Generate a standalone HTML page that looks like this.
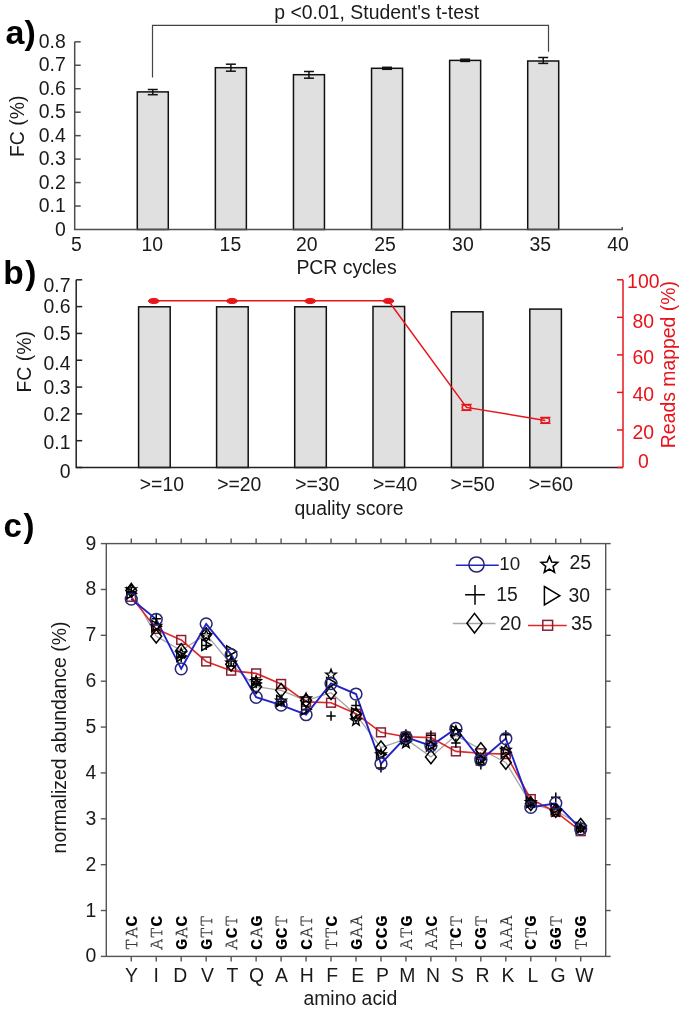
<!DOCTYPE html>
<html><head><meta charset="utf-8"><style>
html,body{margin:0;padding:0;background:#fff;}
svg{display:block;font-family:"Liberation Sans", sans-serif;will-change:transform;}
</style></head><body>
<svg width="685" height="1011" viewBox="0 0 685 1011">
<rect width="685" height="1011" fill="#fff"/>
<text x="5.50" y="44.00" font-size="34" text-anchor="start" fill="#000" font-weight="bold" >a)</text>
<text x="65.80" y="235.70" font-size="19.4" text-anchor="end" fill="#1a1a1a" font-weight="normal" >0</text>
<text x="65.80" y="212.24" font-size="19.4" text-anchor="end" fill="#1a1a1a" font-weight="normal" >0.1</text>
<text x="65.80" y="188.78" font-size="19.4" text-anchor="end" fill="#1a1a1a" font-weight="normal" >0.2</text>
<text x="65.80" y="165.31" font-size="19.4" text-anchor="end" fill="#1a1a1a" font-weight="normal" >0.3</text>
<text x="65.80" y="141.85" font-size="19.4" text-anchor="end" fill="#1a1a1a" font-weight="normal" >0.4</text>
<text x="65.80" y="118.39" font-size="19.4" text-anchor="end" fill="#1a1a1a" font-weight="normal" >0.5</text>
<text x="65.80" y="94.93" font-size="19.4" text-anchor="end" fill="#1a1a1a" font-weight="normal" >0.6</text>
<text x="65.80" y="71.46" font-size="19.4" text-anchor="end" fill="#1a1a1a" font-weight="normal" >0.7</text>
<text x="65.80" y="48.00" font-size="19.4" text-anchor="end" fill="#1a1a1a" font-weight="normal" >0.8</text>
<text transform="translate(23.7,126.3) rotate(-90)" font-size="19.4" text-anchor="middle" fill="#1a1a1a">FC (%)</text>
<text x="76.50" y="251.00" font-size="19.4" text-anchor="middle" fill="#1a1a1a" font-weight="normal" >5</text>
<text x="152.20" y="251.00" font-size="19.4" text-anchor="middle" fill="#1a1a1a" font-weight="normal" >10</text>
<text x="230.40" y="251.00" font-size="19.4" text-anchor="middle" fill="#1a1a1a" font-weight="normal" >15</text>
<text x="306.80" y="251.00" font-size="19.4" text-anchor="middle" fill="#1a1a1a" font-weight="normal" >20</text>
<text x="385.00" y="251.00" font-size="19.4" text-anchor="middle" fill="#1a1a1a" font-weight="normal" >25</text>
<text x="462.90" y="251.00" font-size="19.4" text-anchor="middle" fill="#1a1a1a" font-weight="normal" >30</text>
<text x="540.20" y="251.00" font-size="19.4" text-anchor="middle" fill="#1a1a1a" font-weight="normal" >35</text>
<text x="618.10" y="251.00" font-size="19.4" text-anchor="middle" fill="#1a1a1a" font-weight="normal" >40</text>
<text x="346.50" y="274.00" font-size="19.4" text-anchor="middle" fill="#1a1a1a" font-weight="normal" >PCR cycles</text>
<rect x="137.29" y="91.90" width="31" height="137.60" fill="#e0e0e0" stroke="#111" stroke-width="1.5"/>
<rect x="215.37" y="67.70" width="31" height="161.80" fill="#e0e0e0" stroke="#111" stroke-width="1.5"/>
<rect x="293.46" y="74.70" width="31" height="154.80" fill="#e0e0e0" stroke="#111" stroke-width="1.5"/>
<rect x="371.54" y="68.30" width="31" height="161.20" fill="#e0e0e0" stroke="#111" stroke-width="1.5"/>
<rect x="449.63" y="60.40" width="31" height="169.10" fill="#e0e0e0" stroke="#111" stroke-width="1.5"/>
<rect x="527.71" y="61.00" width="31" height="168.50" fill="#e0e0e0" stroke="#111" stroke-width="1.5"/>
<line x1="152.79" y1="89.50" x2="152.79" y2="94.70" stroke="#111" stroke-width="1.5" />
<line x1="147.79" y1="89.50" x2="157.79" y2="89.50" stroke="#111" stroke-width="1.5" />
<line x1="147.79" y1="94.70" x2="157.79" y2="94.70" stroke="#111" stroke-width="1.5" />
<line x1="230.87" y1="64.20" x2="230.87" y2="71.20" stroke="#111" stroke-width="1.5" />
<line x1="225.87" y1="64.20" x2="235.87" y2="64.20" stroke="#111" stroke-width="1.5" />
<line x1="225.87" y1="71.20" x2="235.87" y2="71.20" stroke="#111" stroke-width="1.5" />
<line x1="308.96" y1="71.50" x2="308.96" y2="78.20" stroke="#111" stroke-width="1.5" />
<line x1="303.96" y1="71.50" x2="313.96" y2="71.50" stroke="#111" stroke-width="1.5" />
<line x1="303.96" y1="78.20" x2="313.96" y2="78.20" stroke="#111" stroke-width="1.5" />
<line x1="387.04" y1="67.30" x2="387.04" y2="69.30" stroke="#111" stroke-width="1.5" />
<line x1="382.04" y1="67.30" x2="392.04" y2="67.30" stroke="#111" stroke-width="1.5" />
<line x1="382.04" y1="69.30" x2="392.04" y2="69.30" stroke="#111" stroke-width="1.5" />
<line x1="465.13" y1="59.20" x2="465.13" y2="61.40" stroke="#111" stroke-width="1.5" />
<line x1="460.13" y1="59.20" x2="470.13" y2="59.20" stroke="#111" stroke-width="1.5" />
<line x1="460.13" y1="61.40" x2="470.13" y2="61.40" stroke="#111" stroke-width="1.5" />
<line x1="543.21" y1="57.50" x2="543.21" y2="63.40" stroke="#111" stroke-width="1.5" />
<line x1="538.21" y1="57.50" x2="548.21" y2="57.50" stroke="#111" stroke-width="1.5" />
<line x1="538.21" y1="63.40" x2="548.21" y2="63.40" stroke="#111" stroke-width="1.5" />
<path d="M74.7,41.8 V229.5 H622.2 V226.9" fill="none" stroke="#4d4d4d" stroke-width="1.5"/>
<line x1="74.70" y1="206.04" x2="80.70" y2="206.04" stroke="#4d4d4d" stroke-width="1.5" />
<line x1="74.70" y1="182.57" x2="80.70" y2="182.57" stroke="#4d4d4d" stroke-width="1.5" />
<line x1="74.70" y1="159.11" x2="80.70" y2="159.11" stroke="#4d4d4d" stroke-width="1.5" />
<line x1="74.70" y1="135.65" x2="80.70" y2="135.65" stroke="#4d4d4d" stroke-width="1.5" />
<line x1="74.70" y1="112.19" x2="80.70" y2="112.19" stroke="#4d4d4d" stroke-width="1.5" />
<line x1="74.70" y1="88.73" x2="80.70" y2="88.73" stroke="#4d4d4d" stroke-width="1.5" />
<line x1="74.70" y1="65.26" x2="80.70" y2="65.26" stroke="#4d4d4d" stroke-width="1.5" />
<line x1="74.70" y1="41.80" x2="80.70" y2="41.80" stroke="#4d4d4d" stroke-width="1.5" />
<path d="M152.5,77.4 V25.3 H548.5 V51.8" fill="none" stroke="#444" stroke-width="1.2"/>
<text x="274.30" y="18.70" font-size="19.4" text-anchor="start" fill="#1a1a1a" font-weight="normal" >p &lt;0.01, Student's t-test</text>
<text x="3.30" y="284.30" font-size="33.5" text-anchor="start" fill="#000" font-weight="bold" >b<tspan dx="1.6">)</tspan></text>
<text x="70.50" y="477.70" font-size="19.4" text-anchor="end" fill="#1a1a1a" font-weight="normal" >0</text>
<text x="70.50" y="448.70" font-size="19.4" text-anchor="end" fill="#1a1a1a" font-weight="normal" >0.1</text>
<text x="70.50" y="421.10" font-size="19.4" text-anchor="end" fill="#1a1a1a" font-weight="normal" >0.2</text>
<text x="70.50" y="393.90" font-size="19.4" text-anchor="end" fill="#1a1a1a" font-weight="normal" >0.3</text>
<text x="70.50" y="369.50" font-size="19.4" text-anchor="end" fill="#1a1a1a" font-weight="normal" >0.4</text>
<text x="70.50" y="340.30" font-size="19.4" text-anchor="end" fill="#1a1a1a" font-weight="normal" >0.5</text>
<text x="70.50" y="313.40" font-size="19.4" text-anchor="end" fill="#1a1a1a" font-weight="normal" >0.6</text>
<text x="70.50" y="292.40" font-size="19.4" text-anchor="end" fill="#1a1a1a" font-weight="normal" >0.7</text>
<text transform="translate(30.5,361.8) rotate(-90)" font-size="19.4" text-anchor="middle" fill="#1a1a1a">FC (%)</text>
<rect x="138.60" y="306.80" width="31.6" height="160.70" fill="#e0e0e0" stroke="#111" stroke-width="1.5"/>
<rect x="216.60" y="306.80" width="31.6" height="160.70" fill="#e0e0e0" stroke="#111" stroke-width="1.5"/>
<rect x="294.70" y="306.80" width="31.6" height="160.70" fill="#e0e0e0" stroke="#111" stroke-width="1.5"/>
<rect x="373.00" y="306.50" width="31.6" height="161.00" fill="#e0e0e0" stroke="#111" stroke-width="1.5"/>
<rect x="451.40" y="311.80" width="31.6" height="155.70" fill="#e0e0e0" stroke="#111" stroke-width="1.5"/>
<rect x="529.80" y="309.10" width="31.6" height="158.40" fill="#e0e0e0" stroke="#111" stroke-width="1.5"/>
<text x="161.90" y="491.40" font-size="19.4" text-anchor="middle" fill="#1a1a1a" font-weight="normal" >&gt;=10</text>
<text x="239.30" y="491.40" font-size="19.4" text-anchor="middle" fill="#1a1a1a" font-weight="normal" >&gt;=20</text>
<text x="317.40" y="491.40" font-size="19.4" text-anchor="middle" fill="#1a1a1a" font-weight="normal" >&gt;=30</text>
<text x="395.10" y="491.40" font-size="19.4" text-anchor="middle" fill="#1a1a1a" font-weight="normal" >&gt;=40</text>
<text x="472.70" y="491.40" font-size="19.4" text-anchor="middle" fill="#1a1a1a" font-weight="normal" >&gt;=50</text>
<text x="550.90" y="491.40" font-size="19.4" text-anchor="middle" fill="#1a1a1a" font-weight="normal" >&gt;=60</text>
<text x="349.00" y="515.00" font-size="19.4" text-anchor="middle" fill="#1a1a1a" font-weight="normal" >quality score</text>
<path d="M76.2,279.8 V467.5 H623.0" fill="none" stroke="#222" stroke-width="1.5"/>
<line x1="76.20" y1="467.50" x2="82.20" y2="467.50" stroke="#222" stroke-width="1.5" />
<line x1="76.20" y1="440.69" x2="82.20" y2="440.69" stroke="#222" stroke-width="1.5" />
<line x1="76.20" y1="413.87" x2="82.20" y2="413.87" stroke="#222" stroke-width="1.5" />
<line x1="76.20" y1="387.06" x2="82.20" y2="387.06" stroke="#222" stroke-width="1.5" />
<line x1="76.20" y1="360.24" x2="82.20" y2="360.24" stroke="#222" stroke-width="1.5" />
<line x1="76.20" y1="333.43" x2="82.20" y2="333.43" stroke="#222" stroke-width="1.5" />
<line x1="76.20" y1="306.61" x2="82.20" y2="306.61" stroke="#222" stroke-width="1.5" />
<line x1="76.20" y1="279.80" x2="82.20" y2="279.80" stroke="#222" stroke-width="1.5" />
<path d="M623.0,279.8 V467.5" fill="none" stroke="#e8141c" stroke-width="1.5"/>
<line x1="617.00" y1="467.50" x2="623.00" y2="467.50" stroke="#e8141c" stroke-width="1.5" />
<text x="643.30" y="467.90" font-size="19.4" text-anchor="middle" fill="#e8141c" font-weight="normal" >0</text>
<line x1="617.00" y1="429.96" x2="623.00" y2="429.96" stroke="#e8141c" stroke-width="1.5" />
<text x="643.30" y="438.70" font-size="19.4" text-anchor="middle" fill="#e8141c" font-weight="normal" >20</text>
<line x1="617.00" y1="392.42" x2="623.00" y2="392.42" stroke="#e8141c" stroke-width="1.5" />
<text x="643.30" y="400.90" font-size="19.4" text-anchor="middle" fill="#e8141c" font-weight="normal" >40</text>
<line x1="617.00" y1="354.88" x2="623.00" y2="354.88" stroke="#e8141c" stroke-width="1.5" />
<text x="643.30" y="364.00" font-size="19.4" text-anchor="middle" fill="#e8141c" font-weight="normal" >60</text>
<line x1="617.00" y1="317.34" x2="623.00" y2="317.34" stroke="#e8141c" stroke-width="1.5" />
<text x="643.30" y="328.20" font-size="19.4" text-anchor="middle" fill="#e8141c" font-weight="normal" >80</text>
<line x1="617.00" y1="279.80" x2="623.00" y2="279.80" stroke="#e8141c" stroke-width="1.5" />
<text x="643.30" y="287.50" font-size="19.4" text-anchor="middle" fill="#e8141c" font-weight="normal" >100</text>
<text transform="translate(675,364.6) rotate(-90)" font-size="19.4" text-anchor="middle" fill="#e8141c">Reads mapped (%)</text>
<polyline points="153.8,300.7 232.0,300.7 310.2,300.7 388.4,300.7 466.5,407.4 545.3,420.4" fill="none" stroke="#e8141c" stroke-width="1.5"/>
<ellipse cx="153.8" cy="301.0" rx="5.3" ry="2.6" fill="#e8141c" stroke="#e8141c" stroke-width="1"/>
<ellipse cx="232.0" cy="301.0" rx="5.3" ry="2.6" fill="#e8141c" stroke="#e8141c" stroke-width="1"/>
<ellipse cx="310.2" cy="301.0" rx="5.3" ry="2.6" fill="#e8141c" stroke="#e8141c" stroke-width="1"/>
<ellipse cx="388.4" cy="301.0" rx="5.3" ry="2.6" fill="#e8141c" stroke="#e8141c" stroke-width="1"/>
<ellipse cx="466.5" cy="407.4" rx="4.3" ry="2.6" fill="none" stroke="#e8141c" stroke-width="1.5"/>
<line x1="461.30" y1="404.50" x2="471.70" y2="404.50" stroke="#e8141c" stroke-width="1.5" />
<line x1="461.30" y1="410.30" x2="471.70" y2="410.30" stroke="#e8141c" stroke-width="1.5" />
<ellipse cx="545.3" cy="420.4" rx="4.3" ry="2.6" fill="none" stroke="#e8141c" stroke-width="1.5"/>
<line x1="540.10" y1="417.50" x2="550.50" y2="417.50" stroke="#e8141c" stroke-width="1.5" />
<line x1="540.10" y1="423.30" x2="550.50" y2="423.30" stroke="#e8141c" stroke-width="1.5" />
<text x="3.60" y="537.20" font-size="33" text-anchor="start" fill="#000" font-weight="bold" >c<tspan dx="1.6">)</tspan></text>
<rect x="106.3" y="543.6" width="499.40000000000003" height="412.79999999999995" fill="none" stroke="#555" stroke-width="1.4"/>
<line x1="100.80" y1="956.40" x2="106.30" y2="956.40" stroke="#555" stroke-width="1.4" />
<line x1="605.70" y1="956.40" x2="610.70" y2="956.40" stroke="#555" stroke-width="1.4" />
<text x="96.20" y="962.40" font-size="19.4" text-anchor="end" fill="#1a1a1a" font-weight="normal" >0</text>
<line x1="100.80" y1="910.53" x2="106.30" y2="910.53" stroke="#555" stroke-width="1.4" />
<line x1="605.70" y1="910.53" x2="610.70" y2="910.53" stroke="#555" stroke-width="1.4" />
<text x="96.20" y="916.53" font-size="19.4" text-anchor="end" fill="#1a1a1a" font-weight="normal" >1</text>
<line x1="100.80" y1="864.67" x2="106.30" y2="864.67" stroke="#555" stroke-width="1.4" />
<line x1="605.70" y1="864.67" x2="610.70" y2="864.67" stroke="#555" stroke-width="1.4" />
<text x="96.20" y="870.67" font-size="19.4" text-anchor="end" fill="#1a1a1a" font-weight="normal" >2</text>
<line x1="100.80" y1="818.80" x2="106.30" y2="818.80" stroke="#555" stroke-width="1.4" />
<line x1="605.70" y1="818.80" x2="610.70" y2="818.80" stroke="#555" stroke-width="1.4" />
<text x="96.20" y="824.80" font-size="19.4" text-anchor="end" fill="#1a1a1a" font-weight="normal" >3</text>
<line x1="100.80" y1="772.93" x2="106.30" y2="772.93" stroke="#555" stroke-width="1.4" />
<line x1="605.70" y1="772.93" x2="610.70" y2="772.93" stroke="#555" stroke-width="1.4" />
<text x="96.20" y="778.93" font-size="19.4" text-anchor="end" fill="#1a1a1a" font-weight="normal" >4</text>
<line x1="100.80" y1="727.07" x2="106.30" y2="727.07" stroke="#555" stroke-width="1.4" />
<line x1="605.70" y1="727.07" x2="610.70" y2="727.07" stroke="#555" stroke-width="1.4" />
<text x="96.20" y="733.07" font-size="19.4" text-anchor="end" fill="#1a1a1a" font-weight="normal" >5</text>
<line x1="100.80" y1="681.20" x2="106.30" y2="681.20" stroke="#555" stroke-width="1.4" />
<line x1="605.70" y1="681.20" x2="610.70" y2="681.20" stroke="#555" stroke-width="1.4" />
<text x="96.20" y="687.20" font-size="19.4" text-anchor="end" fill="#1a1a1a" font-weight="normal" >6</text>
<line x1="100.80" y1="635.33" x2="106.30" y2="635.33" stroke="#555" stroke-width="1.4" />
<line x1="605.70" y1="635.33" x2="610.70" y2="635.33" stroke="#555" stroke-width="1.4" />
<text x="96.20" y="641.33" font-size="19.4" text-anchor="end" fill="#1a1a1a" font-weight="normal" >7</text>
<line x1="100.80" y1="589.47" x2="106.30" y2="589.47" stroke="#555" stroke-width="1.4" />
<line x1="605.70" y1="589.47" x2="610.70" y2="589.47" stroke="#555" stroke-width="1.4" />
<text x="96.20" y="595.47" font-size="19.4" text-anchor="end" fill="#1a1a1a" font-weight="normal" >8</text>
<line x1="100.80" y1="543.60" x2="106.30" y2="543.60" stroke="#555" stroke-width="1.4" />
<line x1="605.70" y1="543.60" x2="610.70" y2="543.60" stroke="#555" stroke-width="1.4" />
<text x="96.20" y="549.60" font-size="19.4" text-anchor="end" fill="#1a1a1a" font-weight="normal" >9</text>
<line x1="131.27" y1="538.40" x2="131.27" y2="543.60" stroke="#555" stroke-width="1.4" />
<line x1="131.27" y1="956.40" x2="131.27" y2="961.60" stroke="#555" stroke-width="1.4" />
<line x1="156.24" y1="538.40" x2="156.24" y2="543.60" stroke="#555" stroke-width="1.4" />
<line x1="156.24" y1="956.40" x2="156.24" y2="961.60" stroke="#555" stroke-width="1.4" />
<line x1="181.21" y1="538.40" x2="181.21" y2="543.60" stroke="#555" stroke-width="1.4" />
<line x1="181.21" y1="956.40" x2="181.21" y2="961.60" stroke="#555" stroke-width="1.4" />
<line x1="206.18" y1="538.40" x2="206.18" y2="543.60" stroke="#555" stroke-width="1.4" />
<line x1="206.18" y1="956.40" x2="206.18" y2="961.60" stroke="#555" stroke-width="1.4" />
<line x1="231.15" y1="538.40" x2="231.15" y2="543.60" stroke="#555" stroke-width="1.4" />
<line x1="231.15" y1="956.40" x2="231.15" y2="961.60" stroke="#555" stroke-width="1.4" />
<line x1="256.12" y1="538.40" x2="256.12" y2="543.60" stroke="#555" stroke-width="1.4" />
<line x1="256.12" y1="956.40" x2="256.12" y2="961.60" stroke="#555" stroke-width="1.4" />
<line x1="281.09" y1="538.40" x2="281.09" y2="543.60" stroke="#555" stroke-width="1.4" />
<line x1="281.09" y1="956.40" x2="281.09" y2="961.60" stroke="#555" stroke-width="1.4" />
<line x1="306.06" y1="538.40" x2="306.06" y2="543.60" stroke="#555" stroke-width="1.4" />
<line x1="306.06" y1="956.40" x2="306.06" y2="961.60" stroke="#555" stroke-width="1.4" />
<line x1="331.03" y1="538.40" x2="331.03" y2="543.60" stroke="#555" stroke-width="1.4" />
<line x1="331.03" y1="956.40" x2="331.03" y2="961.60" stroke="#555" stroke-width="1.4" />
<line x1="356.00" y1="538.40" x2="356.00" y2="543.60" stroke="#555" stroke-width="1.4" />
<line x1="356.00" y1="956.40" x2="356.00" y2="961.60" stroke="#555" stroke-width="1.4" />
<line x1="380.97" y1="538.40" x2="380.97" y2="543.60" stroke="#555" stroke-width="1.4" />
<line x1="380.97" y1="956.40" x2="380.97" y2="961.60" stroke="#555" stroke-width="1.4" />
<line x1="405.94" y1="538.40" x2="405.94" y2="543.60" stroke="#555" stroke-width="1.4" />
<line x1="405.94" y1="956.40" x2="405.94" y2="961.60" stroke="#555" stroke-width="1.4" />
<line x1="430.91" y1="538.40" x2="430.91" y2="543.60" stroke="#555" stroke-width="1.4" />
<line x1="430.91" y1="956.40" x2="430.91" y2="961.60" stroke="#555" stroke-width="1.4" />
<line x1="455.88" y1="538.40" x2="455.88" y2="543.60" stroke="#555" stroke-width="1.4" />
<line x1="455.88" y1="956.40" x2="455.88" y2="961.60" stroke="#555" stroke-width="1.4" />
<line x1="480.85" y1="538.40" x2="480.85" y2="543.60" stroke="#555" stroke-width="1.4" />
<line x1="480.85" y1="956.40" x2="480.85" y2="961.60" stroke="#555" stroke-width="1.4" />
<line x1="505.82" y1="538.40" x2="505.82" y2="543.60" stroke="#555" stroke-width="1.4" />
<line x1="505.82" y1="956.40" x2="505.82" y2="961.60" stroke="#555" stroke-width="1.4" />
<line x1="530.79" y1="538.40" x2="530.79" y2="543.60" stroke="#555" stroke-width="1.4" />
<line x1="530.79" y1="956.40" x2="530.79" y2="961.60" stroke="#555" stroke-width="1.4" />
<line x1="555.76" y1="538.40" x2="555.76" y2="543.60" stroke="#555" stroke-width="1.4" />
<line x1="555.76" y1="956.40" x2="555.76" y2="961.60" stroke="#555" stroke-width="1.4" />
<line x1="580.73" y1="538.40" x2="580.73" y2="543.60" stroke="#555" stroke-width="1.4" />
<line x1="580.73" y1="956.40" x2="580.73" y2="961.60" stroke="#555" stroke-width="1.4" />
<text x="131.57" y="982.20" font-size="19.4" text-anchor="middle" fill="#1a1a1a" font-weight="normal" >Y</text>
<text x="156.14" y="982.20" font-size="19.4" text-anchor="middle" fill="#1a1a1a" font-weight="normal" >I</text>
<text x="180.21" y="982.20" font-size="19.4" text-anchor="middle" fill="#1a1a1a" font-weight="normal" >D</text>
<text x="207.38" y="982.20" font-size="19.4" text-anchor="middle" fill="#1a1a1a" font-weight="normal" >V</text>
<text x="232.35" y="982.20" font-size="19.4" text-anchor="middle" fill="#1a1a1a" font-weight="normal" >T</text>
<text x="256.52" y="982.20" font-size="19.4" text-anchor="middle" fill="#1a1a1a" font-weight="normal" >Q</text>
<text x="281.39" y="982.20" font-size="19.4" text-anchor="middle" fill="#1a1a1a" font-weight="normal" >A</text>
<text x="306.66" y="982.20" font-size="19.4" text-anchor="middle" fill="#1a1a1a" font-weight="normal" >H</text>
<text x="332.23" y="982.20" font-size="19.4" text-anchor="middle" fill="#1a1a1a" font-weight="normal" >F</text>
<text x="357.60" y="982.20" font-size="19.4" text-anchor="middle" fill="#1a1a1a" font-weight="normal" >E</text>
<text x="382.37" y="982.20" font-size="19.4" text-anchor="middle" fill="#1a1a1a" font-weight="normal" >P</text>
<text x="407.34" y="982.20" font-size="19.4" text-anchor="middle" fill="#1a1a1a" font-weight="normal" >M</text>
<text x="433.11" y="982.20" font-size="19.4" text-anchor="middle" fill="#1a1a1a" font-weight="normal" >N</text>
<text x="457.38" y="982.20" font-size="19.4" text-anchor="middle" fill="#1a1a1a" font-weight="normal" >S</text>
<text x="482.55" y="982.20" font-size="19.4" text-anchor="middle" fill="#1a1a1a" font-weight="normal" >R</text>
<text x="507.92" y="982.20" font-size="19.4" text-anchor="middle" fill="#1a1a1a" font-weight="normal" >K</text>
<text x="532.89" y="982.20" font-size="19.4" text-anchor="middle" fill="#1a1a1a" font-weight="normal" >L</text>
<text x="558.06" y="982.20" font-size="19.4" text-anchor="middle" fill="#1a1a1a" font-weight="normal" >G</text>
<text x="584.33" y="982.20" font-size="19.4" text-anchor="middle" fill="#1a1a1a" font-weight="normal" >W</text>
<text x="350.30" y="1005.20" font-size="19.4" text-anchor="middle" fill="#1a1a1a" font-weight="normal" >amino acid</text>
<text transform="translate(66,737.5) rotate(-90)" font-size="19.4" text-anchor="middle" fill="#1a1a1a">normalized abundance (%)</text>
<g transform="translate(136.87,944.40) rotate(-90)"><path d="M-4.3,-10.6H4.3M-4.3,-10.6v3.0M4.3,-10.6v3.0M0,-10.6V0M-2.3,0H2.3" stroke="#3a3a3a" stroke-width="1.05" fill="none"/></g>
<g transform="translate(136.87,932.70) rotate(-90)"><path d="M-2.6,-10.6H0.3L4.1,0M0.3,-10.6L-3.9,0M-2.6,-3.82H2.7M-5.5,0H-2.3M2.2,0H5.5" stroke="#3a3a3a" stroke-width="1.05" fill="none"/></g>
<g transform="translate(136.87,921.00) rotate(-90) scale(1,0.86)"><text x="0" y="0" font-family='"Liberation Mono", monospace' font-weight="bold" font-size="19" text-anchor="middle" fill="#000">C</text></g>
<g transform="translate(161.84,944.40) rotate(-90)"><path d="M-2.6,-10.6H0.3L4.1,0M0.3,-10.6L-3.9,0M-2.6,-3.82H2.7M-5.5,0H-2.3M2.2,0H5.5" stroke="#3a3a3a" stroke-width="1.05" fill="none"/></g>
<g transform="translate(161.84,932.70) rotate(-90)"><path d="M-4.3,-10.6H4.3M-4.3,-10.6v3.0M4.3,-10.6v3.0M0,-10.6V0M-2.3,0H2.3" stroke="#3a3a3a" stroke-width="1.05" fill="none"/></g>
<g transform="translate(161.84,921.00) rotate(-90) scale(1,0.86)"><text x="0" y="0" font-family='"Liberation Mono", monospace' font-weight="bold" font-size="19" text-anchor="middle" fill="#000">C</text></g>
<g transform="translate(186.81,944.40) rotate(-90) scale(1,0.86)"><text x="0" y="0" font-family='"Liberation Mono", monospace' font-weight="bold" font-size="19" text-anchor="middle" fill="#000">G</text></g>
<g transform="translate(186.81,932.70) rotate(-90)"><path d="M-2.6,-10.6H0.3L4.1,0M0.3,-10.6L-3.9,0M-2.6,-3.82H2.7M-5.5,0H-2.3M2.2,0H5.5" stroke="#3a3a3a" stroke-width="1.05" fill="none"/></g>
<g transform="translate(186.81,921.00) rotate(-90) scale(1,0.86)"><text x="0" y="0" font-family='"Liberation Mono", monospace' font-weight="bold" font-size="19" text-anchor="middle" fill="#000">C</text></g>
<g transform="translate(211.78,944.40) rotate(-90) scale(1,0.86)"><text x="0" y="0" font-family='"Liberation Mono", monospace' font-weight="bold" font-size="19" text-anchor="middle" fill="#000">G</text></g>
<g transform="translate(211.78,932.70) rotate(-90)"><path d="M-4.3,-10.6H4.3M-4.3,-10.6v3.0M4.3,-10.6v3.0M0,-10.6V0M-2.3,0H2.3" stroke="#3a3a3a" stroke-width="1.05" fill="none"/></g>
<g transform="translate(211.78,921.00) rotate(-90)"><path d="M-4.3,-10.6H4.3M-4.3,-10.6v3.0M4.3,-10.6v3.0M0,-10.6V0M-2.3,0H2.3" stroke="#3a3a3a" stroke-width="1.05" fill="none"/></g>
<g transform="translate(236.75,944.40) rotate(-90)"><path d="M-2.6,-10.6H0.3L4.1,0M0.3,-10.6L-3.9,0M-2.6,-3.82H2.7M-5.5,0H-2.3M2.2,0H5.5" stroke="#3a3a3a" stroke-width="1.05" fill="none"/></g>
<g transform="translate(236.75,932.70) rotate(-90) scale(1,0.86)"><text x="0" y="0" font-family='"Liberation Mono", monospace' font-weight="bold" font-size="19" text-anchor="middle" fill="#000">C</text></g>
<g transform="translate(236.75,921.00) rotate(-90)"><path d="M-4.3,-10.6H4.3M-4.3,-10.6v3.0M4.3,-10.6v3.0M0,-10.6V0M-2.3,0H2.3" stroke="#3a3a3a" stroke-width="1.05" fill="none"/></g>
<g transform="translate(261.72,944.40) rotate(-90) scale(1,0.86)"><text x="0" y="0" font-family='"Liberation Mono", monospace' font-weight="bold" font-size="19" text-anchor="middle" fill="#000">C</text></g>
<g transform="translate(261.72,932.70) rotate(-90)"><path d="M-2.6,-10.6H0.3L4.1,0M0.3,-10.6L-3.9,0M-2.6,-3.82H2.7M-5.5,0H-2.3M2.2,0H5.5" stroke="#3a3a3a" stroke-width="1.05" fill="none"/></g>
<g transform="translate(261.72,921.00) rotate(-90) scale(1,0.86)"><text x="0" y="0" font-family='"Liberation Mono", monospace' font-weight="bold" font-size="19" text-anchor="middle" fill="#000">G</text></g>
<g transform="translate(286.69,944.40) rotate(-90) scale(1,0.86)"><text x="0" y="0" font-family='"Liberation Mono", monospace' font-weight="bold" font-size="19" text-anchor="middle" fill="#000">G</text></g>
<g transform="translate(286.69,932.70) rotate(-90) scale(1,0.86)"><text x="0" y="0" font-family='"Liberation Mono", monospace' font-weight="bold" font-size="19" text-anchor="middle" fill="#000">C</text></g>
<g transform="translate(286.69,921.00) rotate(-90)"><path d="M-4.3,-10.6H4.3M-4.3,-10.6v3.0M4.3,-10.6v3.0M0,-10.6V0M-2.3,0H2.3" stroke="#3a3a3a" stroke-width="1.05" fill="none"/></g>
<g transform="translate(311.66,944.40) rotate(-90) scale(1,0.86)"><text x="0" y="0" font-family='"Liberation Mono", monospace' font-weight="bold" font-size="19" text-anchor="middle" fill="#000">C</text></g>
<g transform="translate(311.66,932.70) rotate(-90)"><path d="M-2.6,-10.6H0.3L4.1,0M0.3,-10.6L-3.9,0M-2.6,-3.82H2.7M-5.5,0H-2.3M2.2,0H5.5" stroke="#3a3a3a" stroke-width="1.05" fill="none"/></g>
<g transform="translate(311.66,921.00) rotate(-90)"><path d="M-4.3,-10.6H4.3M-4.3,-10.6v3.0M4.3,-10.6v3.0M0,-10.6V0M-2.3,0H2.3" stroke="#3a3a3a" stroke-width="1.05" fill="none"/></g>
<g transform="translate(336.63,944.40) rotate(-90)"><path d="M-4.3,-10.6H4.3M-4.3,-10.6v3.0M4.3,-10.6v3.0M0,-10.6V0M-2.3,0H2.3" stroke="#3a3a3a" stroke-width="1.05" fill="none"/></g>
<g transform="translate(336.63,932.70) rotate(-90)"><path d="M-4.3,-10.6H4.3M-4.3,-10.6v3.0M4.3,-10.6v3.0M0,-10.6V0M-2.3,0H2.3" stroke="#3a3a3a" stroke-width="1.05" fill="none"/></g>
<g transform="translate(336.63,921.00) rotate(-90) scale(1,0.86)"><text x="0" y="0" font-family='"Liberation Mono", monospace' font-weight="bold" font-size="19" text-anchor="middle" fill="#000">C</text></g>
<g transform="translate(361.60,944.40) rotate(-90) scale(1,0.86)"><text x="0" y="0" font-family='"Liberation Mono", monospace' font-weight="bold" font-size="19" text-anchor="middle" fill="#000">G</text></g>
<g transform="translate(361.60,932.70) rotate(-90)"><path d="M-2.6,-10.6H0.3L4.1,0M0.3,-10.6L-3.9,0M-2.6,-3.82H2.7M-5.5,0H-2.3M2.2,0H5.5" stroke="#3a3a3a" stroke-width="1.05" fill="none"/></g>
<g transform="translate(361.60,921.00) rotate(-90)"><path d="M-2.6,-10.6H0.3L4.1,0M0.3,-10.6L-3.9,0M-2.6,-3.82H2.7M-5.5,0H-2.3M2.2,0H5.5" stroke="#3a3a3a" stroke-width="1.05" fill="none"/></g>
<g transform="translate(386.57,944.40) rotate(-90) scale(1,0.86)"><text x="0" y="0" font-family='"Liberation Mono", monospace' font-weight="bold" font-size="19" text-anchor="middle" fill="#000">C</text></g>
<g transform="translate(386.57,932.70) rotate(-90) scale(1,0.86)"><text x="0" y="0" font-family='"Liberation Mono", monospace' font-weight="bold" font-size="19" text-anchor="middle" fill="#000">C</text></g>
<g transform="translate(386.57,921.00) rotate(-90) scale(1,0.86)"><text x="0" y="0" font-family='"Liberation Mono", monospace' font-weight="bold" font-size="19" text-anchor="middle" fill="#000">G</text></g>
<g transform="translate(411.54,944.40) rotate(-90)"><path d="M-2.6,-10.6H0.3L4.1,0M0.3,-10.6L-3.9,0M-2.6,-3.82H2.7M-5.5,0H-2.3M2.2,0H5.5" stroke="#3a3a3a" stroke-width="1.05" fill="none"/></g>
<g transform="translate(411.54,932.70) rotate(-90)"><path d="M-4.3,-10.6H4.3M-4.3,-10.6v3.0M4.3,-10.6v3.0M0,-10.6V0M-2.3,0H2.3" stroke="#3a3a3a" stroke-width="1.05" fill="none"/></g>
<g transform="translate(411.54,921.00) rotate(-90) scale(1,0.86)"><text x="0" y="0" font-family='"Liberation Mono", monospace' font-weight="bold" font-size="19" text-anchor="middle" fill="#000">G</text></g>
<g transform="translate(436.51,944.40) rotate(-90)"><path d="M-2.6,-10.6H0.3L4.1,0M0.3,-10.6L-3.9,0M-2.6,-3.82H2.7M-5.5,0H-2.3M2.2,0H5.5" stroke="#3a3a3a" stroke-width="1.05" fill="none"/></g>
<g transform="translate(436.51,932.70) rotate(-90)"><path d="M-2.6,-10.6H0.3L4.1,0M0.3,-10.6L-3.9,0M-2.6,-3.82H2.7M-5.5,0H-2.3M2.2,0H5.5" stroke="#3a3a3a" stroke-width="1.05" fill="none"/></g>
<g transform="translate(436.51,921.00) rotate(-90) scale(1,0.86)"><text x="0" y="0" font-family='"Liberation Mono", monospace' font-weight="bold" font-size="19" text-anchor="middle" fill="#000">C</text></g>
<g transform="translate(461.48,944.40) rotate(-90)"><path d="M-4.3,-10.6H4.3M-4.3,-10.6v3.0M4.3,-10.6v3.0M0,-10.6V0M-2.3,0H2.3" stroke="#3a3a3a" stroke-width="1.05" fill="none"/></g>
<g transform="translate(461.48,932.70) rotate(-90) scale(1,0.86)"><text x="0" y="0" font-family='"Liberation Mono", monospace' font-weight="bold" font-size="19" text-anchor="middle" fill="#000">C</text></g>
<g transform="translate(461.48,921.00) rotate(-90)"><path d="M-4.3,-10.6H4.3M-4.3,-10.6v3.0M4.3,-10.6v3.0M0,-10.6V0M-2.3,0H2.3" stroke="#3a3a3a" stroke-width="1.05" fill="none"/></g>
<g transform="translate(486.45,944.40) rotate(-90) scale(1,0.86)"><text x="0" y="0" font-family='"Liberation Mono", monospace' font-weight="bold" font-size="19" text-anchor="middle" fill="#000">C</text></g>
<g transform="translate(486.45,932.70) rotate(-90) scale(1,0.86)"><text x="0" y="0" font-family='"Liberation Mono", monospace' font-weight="bold" font-size="19" text-anchor="middle" fill="#000">G</text></g>
<g transform="translate(486.45,921.00) rotate(-90)"><path d="M-4.3,-10.6H4.3M-4.3,-10.6v3.0M4.3,-10.6v3.0M0,-10.6V0M-2.3,0H2.3" stroke="#3a3a3a" stroke-width="1.05" fill="none"/></g>
<g transform="translate(511.42,944.40) rotate(-90)"><path d="M-2.6,-10.6H0.3L4.1,0M0.3,-10.6L-3.9,0M-2.6,-3.82H2.7M-5.5,0H-2.3M2.2,0H5.5" stroke="#3a3a3a" stroke-width="1.05" fill="none"/></g>
<g transform="translate(511.42,932.70) rotate(-90)"><path d="M-2.6,-10.6H0.3L4.1,0M0.3,-10.6L-3.9,0M-2.6,-3.82H2.7M-5.5,0H-2.3M2.2,0H5.5" stroke="#3a3a3a" stroke-width="1.05" fill="none"/></g>
<g transform="translate(511.42,921.00) rotate(-90)"><path d="M-2.6,-10.6H0.3L4.1,0M0.3,-10.6L-3.9,0M-2.6,-3.82H2.7M-5.5,0H-2.3M2.2,0H5.5" stroke="#3a3a3a" stroke-width="1.05" fill="none"/></g>
<g transform="translate(536.39,944.40) rotate(-90) scale(1,0.86)"><text x="0" y="0" font-family='"Liberation Mono", monospace' font-weight="bold" font-size="19" text-anchor="middle" fill="#000">C</text></g>
<g transform="translate(536.39,932.70) rotate(-90)"><path d="M-4.3,-10.6H4.3M-4.3,-10.6v3.0M4.3,-10.6v3.0M0,-10.6V0M-2.3,0H2.3" stroke="#3a3a3a" stroke-width="1.05" fill="none"/></g>
<g transform="translate(536.39,921.00) rotate(-90) scale(1,0.86)"><text x="0" y="0" font-family='"Liberation Mono", monospace' font-weight="bold" font-size="19" text-anchor="middle" fill="#000">G</text></g>
<g transform="translate(561.36,944.40) rotate(-90) scale(1,0.86)"><text x="0" y="0" font-family='"Liberation Mono", monospace' font-weight="bold" font-size="19" text-anchor="middle" fill="#000">G</text></g>
<g transform="translate(561.36,932.70) rotate(-90) scale(1,0.86)"><text x="0" y="0" font-family='"Liberation Mono", monospace' font-weight="bold" font-size="19" text-anchor="middle" fill="#000">G</text></g>
<g transform="translate(561.36,921.00) rotate(-90)"><path d="M-4.3,-10.6H4.3M-4.3,-10.6v3.0M4.3,-10.6v3.0M0,-10.6V0M-2.3,0H2.3" stroke="#3a3a3a" stroke-width="1.05" fill="none"/></g>
<g transform="translate(586.33,944.40) rotate(-90)"><path d="M-4.3,-10.6H4.3M-4.3,-10.6v3.0M4.3,-10.6v3.0M0,-10.6V0M-2.3,0H2.3" stroke="#3a3a3a" stroke-width="1.05" fill="none"/></g>
<g transform="translate(586.33,932.70) rotate(-90) scale(1,0.86)"><text x="0" y="0" font-family='"Liberation Mono", monospace' font-weight="bold" font-size="19" text-anchor="middle" fill="#000">G</text></g>
<g transform="translate(586.33,921.00) rotate(-90) scale(1,0.86)"><text x="0" y="0" font-family='"Liberation Mono", monospace' font-weight="bold" font-size="19" text-anchor="middle" fill="#000">G</text></g>
<polyline points="131.27,590.38 156.24,636.25 181.21,650.47 206.18,634.42 231.15,664.23 256.12,686.70 281.09,690.37 306.06,700.46 331.03,692.67 356.00,714.68 380.97,747.71 405.94,738.99 430.91,756.88 455.88,735.32 480.85,749.54 505.82,762.38 530.79,803.66 555.76,810.54 580.73,825.22" fill="none" stroke="#a6a6a6" stroke-width="1.3" stroke-linejoin="miter"/>
<polyline points="131.27,596.81 156.24,628.91 181.21,639.92 206.18,661.48 231.15,670.65 256.12,673.40 281.09,683.95 306.06,701.84 331.03,702.76 356.00,713.77 380.97,732.34 405.94,736.70 430.91,737.62 455.88,751.38 480.85,753.21 505.82,754.13 530.79,799.08 555.76,811.92 580.73,831.18" fill="none" stroke="#e02828" stroke-width="1.6" stroke-linejoin="miter"/>
<polyline points="131.27,599.10 156.24,619.28 181.21,668.82 206.18,623.87 231.15,654.60 256.12,697.25 281.09,705.05 306.06,714.68 331.03,683.49 356.00,694.04 380.97,763.76 405.94,737.16 430.91,745.87 455.88,728.44 480.85,760.09 505.82,738.53 530.79,807.33 555.76,803.21 580.73,828.89" fill="none" stroke="#2222c8" stroke-width="1.9" stroke-linejoin="miter"/>
<rect x="126.87" y="592.41" width="8.80" height="8.80" stroke="#8a2030" stroke-width="1.5" fill="none"/>
<rect x="151.84" y="624.51" width="8.80" height="8.80" stroke="#8a2030" stroke-width="1.5" fill="none"/>
<rect x="176.81" y="635.52" width="8.80" height="8.80" stroke="#8a2030" stroke-width="1.5" fill="none"/>
<rect x="201.78" y="657.08" width="8.80" height="8.80" stroke="#8a2030" stroke-width="1.5" fill="none"/>
<rect x="226.75" y="666.25" width="8.80" height="8.80" stroke="#8a2030" stroke-width="1.5" fill="none"/>
<rect x="251.72" y="669.00" width="8.80" height="8.80" stroke="#8a2030" stroke-width="1.5" fill="none"/>
<rect x="276.69" y="679.55" width="8.80" height="8.80" stroke="#8a2030" stroke-width="1.5" fill="none"/>
<rect x="301.66" y="697.44" width="8.80" height="8.80" stroke="#8a2030" stroke-width="1.5" fill="none"/>
<rect x="326.63" y="698.36" width="8.80" height="8.80" stroke="#8a2030" stroke-width="1.5" fill="none"/>
<rect x="351.60" y="709.37" width="8.80" height="8.80" stroke="#8a2030" stroke-width="1.5" fill="none"/>
<rect x="376.57" y="727.94" width="8.80" height="8.80" stroke="#8a2030" stroke-width="1.5" fill="none"/>
<rect x="401.54" y="732.30" width="8.80" height="8.80" stroke="#8a2030" stroke-width="1.5" fill="none"/>
<rect x="426.51" y="733.22" width="8.80" height="8.80" stroke="#8a2030" stroke-width="1.5" fill="none"/>
<rect x="451.48" y="746.98" width="8.80" height="8.80" stroke="#8a2030" stroke-width="1.5" fill="none"/>
<rect x="476.45" y="748.81" width="8.80" height="8.80" stroke="#8a2030" stroke-width="1.5" fill="none"/>
<rect x="501.42" y="749.73" width="8.80" height="8.80" stroke="#8a2030" stroke-width="1.5" fill="none"/>
<rect x="526.39" y="794.68" width="8.80" height="8.80" stroke="#8a2030" stroke-width="1.5" fill="none"/>
<rect x="551.36" y="807.52" width="8.80" height="8.80" stroke="#8a2030" stroke-width="1.5" fill="none"/>
<rect x="576.33" y="826.78" width="8.80" height="8.80" stroke="#8a2030" stroke-width="1.5" fill="none"/>
<path d="M131.27,583.58L136.67,590.38L131.27,597.18L125.87,590.38Z" stroke="#000" stroke-width="1.5" fill="none"/>
<path d="M156.24,629.45L161.64,636.25L156.24,643.05L150.84,636.25Z" stroke="#000" stroke-width="1.5" fill="none"/>
<path d="M181.21,643.67L186.61,650.47L181.21,657.27L175.81,650.47Z" stroke="#000" stroke-width="1.5" fill="none"/>
<path d="M206.18,627.62L211.58,634.42L206.18,641.22L200.78,634.42Z" stroke="#000" stroke-width="1.5" fill="none"/>
<path d="M231.15,657.43L236.55,664.23L231.15,671.03L225.75,664.23Z" stroke="#000" stroke-width="1.5" fill="none"/>
<path d="M256.12,679.90L261.52,686.70L256.12,693.50L250.72,686.70Z" stroke="#000" stroke-width="1.5" fill="none"/>
<path d="M281.09,683.57L286.49,690.37L281.09,697.17L275.69,690.37Z" stroke="#000" stroke-width="1.5" fill="none"/>
<path d="M306.06,693.66L311.46,700.46L306.06,707.26L300.66,700.46Z" stroke="#000" stroke-width="1.5" fill="none"/>
<path d="M331.03,685.87L336.43,692.67L331.03,699.47L325.63,692.67Z" stroke="#000" stroke-width="1.5" fill="none"/>
<path d="M356.00,707.88L361.40,714.68L356.00,721.48L350.60,714.68Z" stroke="#000" stroke-width="1.5" fill="none"/>
<path d="M380.97,740.91L386.37,747.71L380.97,754.51L375.57,747.71Z" stroke="#000" stroke-width="1.5" fill="none"/>
<path d="M405.94,732.19L411.34,738.99L405.94,745.79L400.54,738.99Z" stroke="#000" stroke-width="1.5" fill="none"/>
<path d="M430.91,750.08L436.31,756.88L430.91,763.68L425.51,756.88Z" stroke="#000" stroke-width="1.5" fill="none"/>
<path d="M455.88,728.52L461.28,735.32L455.88,742.12L450.48,735.32Z" stroke="#000" stroke-width="1.5" fill="none"/>
<path d="M480.85,742.74L486.25,749.54L480.85,756.34L475.45,749.54Z" stroke="#000" stroke-width="1.5" fill="none"/>
<path d="M505.82,755.58L511.22,762.38L505.82,769.18L500.42,762.38Z" stroke="#000" stroke-width="1.5" fill="none"/>
<path d="M530.79,796.86L536.19,803.66L530.79,810.46L525.39,803.66Z" stroke="#000" stroke-width="1.5" fill="none"/>
<path d="M555.76,803.74L561.16,810.54L555.76,817.34L550.36,810.54Z" stroke="#000" stroke-width="1.5" fill="none"/>
<path d="M580.73,818.42L586.13,825.22L580.73,832.02L575.33,825.22Z" stroke="#000" stroke-width="1.5" fill="none"/>
<path d="M126.57,591.76H135.97M131.27,587.06V596.46" stroke="#000" stroke-width="1.5" fill="none"/>
<path d="M151.54,618.82H160.94M156.24,614.12V623.52" stroke="#000" stroke-width="1.5" fill="none"/>
<path d="M176.51,657.35H185.91M181.21,652.65V662.05" stroke="#000" stroke-width="1.5" fill="none"/>
<path d="M201.48,645.42H210.88M206.18,640.72V650.12" stroke="#000" stroke-width="1.5" fill="none"/>
<path d="M226.45,660.56H235.85M231.15,655.86V665.26" stroke="#000" stroke-width="1.5" fill="none"/>
<path d="M251.42,683.49H260.82M256.12,678.79V688.19" stroke="#000" stroke-width="1.5" fill="none"/>
<path d="M276.39,701.84H285.79M281.09,697.14V706.54" stroke="#000" stroke-width="1.5" fill="none"/>
<path d="M301.36,709.64H310.76M306.06,704.94V714.34" stroke="#000" stroke-width="1.5" fill="none"/>
<path d="M326.33,716.06H335.73M331.03,711.36V720.76" stroke="#000" stroke-width="1.5" fill="none"/>
<path d="M351.30,705.51H360.70M356.00,700.81V710.21" stroke="#000" stroke-width="1.5" fill="none"/>
<path d="M376.27,767.89H385.67M380.97,763.19V772.59" stroke="#000" stroke-width="1.5" fill="none"/>
<path d="M401.24,733.95H410.64M405.94,729.25V738.65" stroke="#000" stroke-width="1.5" fill="none"/>
<path d="M426.21,735.32H435.61M430.91,730.62V740.02" stroke="#000" stroke-width="1.5" fill="none"/>
<path d="M451.18,743.12H460.58M455.88,738.42V747.82" stroke="#000" stroke-width="1.5" fill="none"/>
<path d="M476.15,764.68H485.55M480.85,759.98V769.38" stroke="#000" stroke-width="1.5" fill="none"/>
<path d="M501.12,734.86H510.52M505.82,730.16V739.56" stroke="#000" stroke-width="1.5" fill="none"/>
<path d="M526.09,802.29H535.49M530.79,797.59V806.99" stroke="#000" stroke-width="1.5" fill="none"/>
<path d="M551.06,797.24H560.46M555.76,792.54V801.94" stroke="#000" stroke-width="1.5" fill="none"/>
<path d="M576.03,827.97H585.43M580.73,823.27V832.67" stroke="#000" stroke-width="1.5" fill="none"/>
<polygon points="131.27,583.97 132.63,587.60 136.50,587.77 133.47,590.18 134.50,593.92 131.27,591.78 128.04,593.92 129.07,590.18 126.04,587.77 129.91,587.60" stroke="#000" stroke-width="1.4" fill="none" stroke-linejoin="miter"/>
<polygon points="156.24,620.66 157.60,624.29 161.47,624.46 158.44,626.87 159.47,630.61 156.24,628.47 153.01,630.61 154.04,626.87 151.01,624.46 154.88,624.29" stroke="#000" stroke-width="1.4" fill="none" stroke-linejoin="miter"/>
<polygon points="181.21,648.18 182.57,651.81 186.44,651.98 183.41,654.39 184.44,658.13 181.21,655.99 177.98,658.13 179.01,654.39 175.98,651.98 179.85,651.81" stroke="#000" stroke-width="1.4" fill="none" stroke-linejoin="miter"/>
<polygon points="206.18,629.83 207.54,633.46 211.41,633.63 208.38,636.05 209.41,639.78 206.18,637.64 202.95,639.78 203.98,636.05 200.95,633.63 204.82,633.46" stroke="#000" stroke-width="1.4" fill="none" stroke-linejoin="miter"/>
<polygon points="231.15,657.35 232.51,660.98 236.38,661.15 233.35,663.57 234.38,667.30 231.15,665.16 227.92,667.30 228.95,663.57 225.92,661.15 229.79,660.98" stroke="#000" stroke-width="1.4" fill="none" stroke-linejoin="miter"/>
<polygon points="256.12,675.70 257.48,679.33 261.35,679.50 258.32,681.91 259.35,685.65 256.12,683.51 252.89,685.65 253.92,681.91 250.89,679.50 254.76,679.33" stroke="#000" stroke-width="1.4" fill="none" stroke-linejoin="miter"/>
<polygon points="281.09,695.42 282.45,699.05 286.32,699.22 283.29,701.64 284.32,705.37 281.09,703.23 277.86,705.37 278.89,701.64 275.86,699.22 279.73,699.05" stroke="#000" stroke-width="1.4" fill="none" stroke-linejoin="miter"/>
<polygon points="306.06,693.13 307.42,696.76 311.29,696.93 308.26,699.34 309.29,703.08 306.06,700.94 302.83,703.08 303.86,699.34 300.83,696.93 304.70,696.76" stroke="#000" stroke-width="1.4" fill="none" stroke-linejoin="miter"/>
<polygon points="331.03,669.28 332.39,672.91 336.26,673.08 333.23,675.49 334.26,679.23 331.03,677.09 327.80,679.23 328.83,675.49 325.80,673.08 329.67,672.91" stroke="#000" stroke-width="1.4" fill="none" stroke-linejoin="miter"/>
<polygon points="356.00,715.15 357.36,718.78 361.23,718.95 358.20,721.36 359.23,725.09 356.00,722.96 352.77,725.09 353.80,721.36 350.77,718.95 354.64,718.78" stroke="#000" stroke-width="1.4" fill="none" stroke-linejoin="miter"/>
<polygon points="380.97,749.09 382.33,752.72 386.20,752.89 383.17,755.30 384.20,759.04 380.97,756.90 377.74,759.04 378.77,755.30 375.74,752.89 379.61,752.72" stroke="#000" stroke-width="1.4" fill="none" stroke-linejoin="miter"/>
<polygon points="405.94,737.62 407.30,741.25 411.17,741.42 408.14,743.83 409.17,747.57 405.94,745.43 402.71,747.57 403.74,743.83 400.71,741.42 404.58,741.25" stroke="#000" stroke-width="1.4" fill="none" stroke-linejoin="miter"/>
<polygon points="430.91,739.91 432.27,743.54 436.14,743.71 433.11,746.13 434.14,749.86 430.91,747.72 427.68,749.86 428.71,746.13 425.68,743.71 429.55,743.54" stroke="#000" stroke-width="1.4" fill="none" stroke-linejoin="miter"/>
<polygon points="455.88,725.69 457.24,729.33 461.11,729.50 458.08,731.91 459.11,735.64 455.88,733.50 452.65,735.64 453.68,731.91 450.65,729.50 454.52,729.33" stroke="#000" stroke-width="1.4" fill="none" stroke-linejoin="miter"/>
<polygon points="480.85,753.67 482.21,757.30 486.08,757.47 483.05,759.89 484.08,763.62 480.85,761.48 477.62,763.62 478.65,759.89 475.62,757.47 479.49,757.30" stroke="#000" stroke-width="1.4" fill="none" stroke-linejoin="miter"/>
<polygon points="505.82,744.50 507.18,748.13 511.05,748.30 508.02,750.71 509.05,754.45 505.82,752.31 502.59,754.45 503.62,750.71 500.59,748.30 504.46,748.13" stroke="#000" stroke-width="1.4" fill="none" stroke-linejoin="miter"/>
<polygon points="530.79,796.79 532.15,800.42 536.02,800.59 532.99,803.00 534.02,806.74 530.79,804.60 527.56,806.74 528.59,803.00 525.56,800.59 529.43,800.42" stroke="#000" stroke-width="1.4" fill="none" stroke-linejoin="miter"/>
<polygon points="555.76,805.96 557.12,809.59 560.99,809.76 557.96,812.18 558.99,815.91 555.76,813.77 552.53,815.91 553.56,812.18 550.53,809.76 554.40,809.59" stroke="#000" stroke-width="1.4" fill="none" stroke-linejoin="miter"/>
<polygon points="580.73,822.47 582.09,826.10 585.96,826.27 582.93,828.69 583.96,832.42 580.73,830.28 577.50,832.42 578.53,828.69 575.50,826.27 579.37,826.10" stroke="#000" stroke-width="1.4" fill="none" stroke-linejoin="miter"/>
<path d="M126.87,587.64L136.47,593.14L126.87,598.64Z" stroke="#000" stroke-width="1.5" fill="none"/>
<path d="M151.84,620.66L161.44,626.16L151.84,631.66Z" stroke="#000" stroke-width="1.5" fill="none"/>
<path d="M176.81,650.47L186.41,655.97L176.81,661.47Z" stroke="#000" stroke-width="1.5" fill="none"/>
<path d="M201.78,639.47L211.38,644.97L201.78,650.47Z" stroke="#000" stroke-width="1.5" fill="none"/>
<path d="M226.75,645.89L236.35,651.39L226.75,656.89Z" stroke="#000" stroke-width="1.5" fill="none"/>
<path d="M251.72,677.53L261.32,683.03L251.72,688.53Z" stroke="#000" stroke-width="1.5" fill="none"/>
<path d="M276.69,695.42L286.29,700.92L276.69,706.42Z" stroke="#000" stroke-width="1.5" fill="none"/>
<path d="M301.66,703.68L311.26,709.18L301.66,714.68Z" stroke="#000" stroke-width="1.5" fill="none"/>
<path d="M326.63,677.53L336.23,683.03L326.63,688.53Z" stroke="#000" stroke-width="1.5" fill="none"/>
<path d="M351.60,707.81L361.20,713.31L351.60,718.81Z" stroke="#000" stroke-width="1.5" fill="none"/>
<path d="M376.57,749.09L386.17,754.59L376.57,760.09Z" stroke="#000" stroke-width="1.5" fill="none"/>
<path d="M401.54,733.03L411.14,738.53L401.54,744.03Z" stroke="#000" stroke-width="1.5" fill="none"/>
<path d="M426.51,739.91L436.11,745.41L426.51,750.91Z" stroke="#000" stroke-width="1.5" fill="none"/>
<path d="M451.48,725.69L461.08,731.19L451.48,736.69Z" stroke="#000" stroke-width="1.5" fill="none"/>
<path d="M476.45,753.67L486.05,759.17L476.45,764.67Z" stroke="#000" stroke-width="1.5" fill="none"/>
<path d="M501.42,746.79L511.02,752.29L501.42,757.79Z" stroke="#000" stroke-width="1.5" fill="none"/>
<path d="M526.39,796.79L535.99,802.29L526.39,807.79Z" stroke="#000" stroke-width="1.5" fill="none"/>
<path d="M551.36,803.21L560.96,808.71L551.36,814.21Z" stroke="#000" stroke-width="1.5" fill="none"/>
<path d="M576.33,822.47L585.93,827.97L576.33,833.47Z" stroke="#000" stroke-width="1.5" fill="none"/>
<circle cx="131.27" cy="599.10" r="5.9" fill="none" stroke="#262673" stroke-width="1.5"/>
<circle cx="156.24" cy="619.28" r="5.9" fill="none" stroke="#262673" stroke-width="1.5"/>
<circle cx="181.21" cy="668.82" r="5.9" fill="none" stroke="#262673" stroke-width="1.5"/>
<circle cx="206.18" cy="623.87" r="5.9" fill="none" stroke="#262673" stroke-width="1.5"/>
<circle cx="231.15" cy="654.60" r="5.9" fill="none" stroke="#262673" stroke-width="1.5"/>
<circle cx="256.12" cy="697.25" r="5.9" fill="none" stroke="#262673" stroke-width="1.5"/>
<circle cx="281.09" cy="705.05" r="5.9" fill="none" stroke="#262673" stroke-width="1.5"/>
<circle cx="306.06" cy="714.68" r="5.9" fill="none" stroke="#262673" stroke-width="1.5"/>
<circle cx="331.03" cy="683.49" r="5.9" fill="none" stroke="#262673" stroke-width="1.5"/>
<circle cx="356.00" cy="694.04" r="5.9" fill="none" stroke="#262673" stroke-width="1.5"/>
<circle cx="380.97" cy="763.76" r="5.9" fill="none" stroke="#262673" stroke-width="1.5"/>
<circle cx="405.94" cy="737.16" r="5.9" fill="none" stroke="#262673" stroke-width="1.5"/>
<circle cx="430.91" cy="745.87" r="5.9" fill="none" stroke="#262673" stroke-width="1.5"/>
<circle cx="455.88" cy="728.44" r="5.9" fill="none" stroke="#262673" stroke-width="1.5"/>
<circle cx="480.85" cy="760.09" r="5.9" fill="none" stroke="#262673" stroke-width="1.5"/>
<circle cx="505.82" cy="738.53" r="5.9" fill="none" stroke="#262673" stroke-width="1.5"/>
<circle cx="530.79" cy="807.33" r="5.9" fill="none" stroke="#262673" stroke-width="1.5"/>
<circle cx="555.76" cy="803.21" r="5.9" fill="none" stroke="#262673" stroke-width="1.5"/>
<circle cx="580.73" cy="828.89" r="5.9" fill="none" stroke="#262673" stroke-width="1.5"/>
<line x1="455.80" y1="565.30" x2="498.70" y2="565.30" stroke="#2222c8" stroke-width="1.5" />
<circle cx="476.50" cy="564.50" r="7.6" fill="none" stroke="#262673" stroke-width="1.5"/>
<text x="499.20" y="570.20" font-size="18.8" text-anchor="start" fill="#1a1a1a" font-weight="normal" >10</text>
<polygon points="549.40,556.50 551.70,562.03 557.67,562.51 553.12,566.41 554.51,572.24 549.40,569.12 544.29,572.24 545.68,566.41 541.13,562.51 547.10,562.03" stroke="#000" stroke-width="1.6" fill="none" stroke-linejoin="miter"/>
<text x="569.50" y="569.20" font-size="19.4" text-anchor="start" fill="#1a1a1a" font-weight="normal" >25</text>
<path d="M465.10,594.80H484.90M475.00,584.90V604.70" stroke="#000" stroke-width="1.5" fill="none"/>
<text x="496.20" y="600.60" font-size="19.4" text-anchor="start" fill="#1a1a1a" font-weight="normal" >15</text>
<path d="M544.40,586.50L559.80,595.70L544.40,604.90Z" stroke="#000" stroke-width="1.5" fill="none"/>
<text x="568.50" y="602.30" font-size="19.4" text-anchor="start" fill="#1a1a1a" font-weight="normal" >30</text>
<line x1="452.80" y1="623.50" x2="495.50" y2="623.50" stroke="#a6a6a6" stroke-width="1.4" />
<path d="M474.50,613.40L482.10,623.20L474.50,633.00L466.90,623.20Z" stroke="#000" stroke-width="1.5" fill="none"/>
<text x="499.80" y="630.40" font-size="19.4" text-anchor="start" fill="#1a1a1a" font-weight="normal" >20</text>
<line x1="528.00" y1="625.50" x2="566.70" y2="625.50" stroke="#e02828" stroke-width="1.5" />
<rect x="542.80" y="620.40" width="9.80" height="9.80" stroke="#8a2030" stroke-width="1.5" fill="none"/>
<text x="571.00" y="629.80" font-size="19.4" text-anchor="start" fill="#1a1a1a" font-weight="normal" >35</text>
</svg>
</body></html>
